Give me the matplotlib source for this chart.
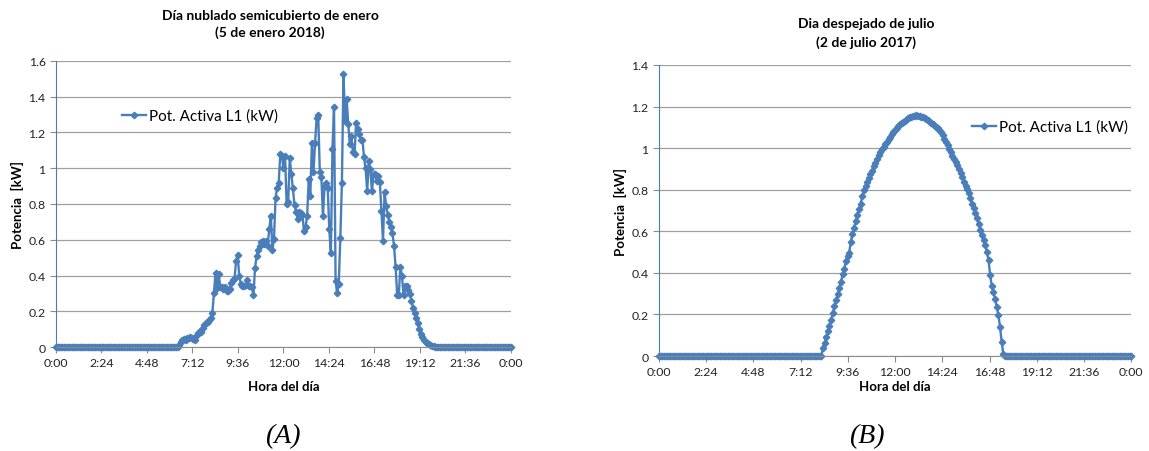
import numpy as np
import matplotlib
matplotlib.use("Agg")
import matplotlib.pyplot as plt
from matplotlib.ticker import FuncFormatter

plt.rcParams['font.family'] = ['Lato', 'DejaVu Sans']

# muestras cada 5 minutos, de 0:00 a 0:00 del dia siguiente
minutos = np.arange(0, 1441, 5)
tiempo = minutos / 1440.0

etiquetas_hora = ['0:00', '2:24', '4:48', '7:12', '9:36', '12:00',
                  '14:24', '16:48', '19:12', '21:36', '0:00']

# (A) 5 de enero 2018, desde 6:30 hasta 20:05
dia_a = [
    0.01, 0.03, 0.04, 0.043, 0.04, 0.048, 0.052, 0.056, 0.05, 0.046, 0.04, 0.065,
    0.08, 0.09, 0.085, 0.105, 0.122, 0.135, 0.14, 0.15, 0.165, 0.19, 0.30, 0.415,
    0.33, 0.41, 0.335, 0.335, 0.322, 0.338, 0.315, 0.315, 0.327, 0.36, 0.375, 0.38,
    0.48, 0.515, 0.40, 0.355, 0.34, 0.34, 0.345, 0.375, 0.34, 0.34, 0.335, 0.29,
    0.44, 0.51, 0.54, 0.565, 0.585, 0.595, 0.575, 0.595, 0.565, 0.66, 0.735, 0.545,
    0.605, 0.835, 0.89, 0.92, 1.08, 1.07, 1.0, 1.07, 0.80, 0.81, 1.055, 0.97,
    0.89, 0.795, 0.755, 0.715, 0.755, 0.75, 0.74, 0.65, 0.67, 0.735, 0.94, 0.845,
    1.14, 0.98, 1.14, 1.28, 1.30, 0.98, 0.95, 0.73, 0.90, 0.915, 0.89, 0.66,
    0.525, 1.105, 1.34, 0.37, 0.30, 0.355, 0.61, 0.92, 1.525, 1.265, 1.385, 1.25,
    1.135, 1.18, 1.09, 1.08, 1.255, 1.22, 1.19, 1.16, 1.16, 1.06, 1.0, 0.87,
    1.04, 0.995, 0.87, 0.965, 0.965, 0.93, 0.955, 0.925, 0.76, 0.595, 0.865, 0.79,
    0.74, 0.70, 0.67, 0.635, 0.565, 0.445, 0.29, 0.29, 0.45, 0.40, 0.29, 0.34,
    0.34, 0.32, 0.295, 0.26, 0.22, 0.19, 0.165, 0.135, 0.10, 0.075, 0.055, 0.04,
    0.03, 0.022, 0.016, 0.012, 0.008, 0.005, 0.003, 0.001,
]
pot_a = [0.0] * 78 + dia_a + [0.0] * 47

# (B) 2 de julio 2017, desde 8:20 hasta 17:30
dia_b = [
    0.04, 0.065, 0.09, 0.12, 0.145, 0.175, 0.205, 0.24, 0.268, 0.298, 0.328, 0.357,
    0.393, 0.42, 0.455, 0.48, 0.495, 0.55, 0.587, 0.617, 0.65, 0.68, 0.707, 0.733,
    0.768, 0.80, 0.818, 0.838, 0.857, 0.874, 0.89, 0.912, 0.93, 0.948, 0.966, 0.98,
    0.994, 1.007, 1.019, 1.03, 1.043, 1.055, 1.067, 1.078, 1.088, 1.098, 1.107, 1.115,
    1.121, 1.127, 1.133, 1.139, 1.145, 1.149, 1.152, 1.155, 1.157, 1.158, 1.157, 1.155,
    1.152, 1.148, 1.144, 1.14, 1.135, 1.128, 1.122, 1.116, 1.11, 1.104, 1.098, 1.088,
    1.078, 1.062, 1.046, 1.03, 1.014, 0.998, 0.982, 0.964, 0.946, 0.933, 0.919, 0.9,
    0.88, 0.86, 0.838, 0.82, 0.803, 0.782, 0.76, 0.732, 0.71, 0.69, 0.663, 0.635,
    0.607, 0.58, 0.558, 0.535, 0.50, 0.46, 0.39, 0.335, 0.31, 0.275, 0.235, 0.199,
    0.14, 0.07, 0.01,
]
pot_b = [0.0] * 100 + dia_b + [0.0] * 78

serie = 'Pot. Activa L1 (kW)'
azul = '#4a7ebb'
gris = '#a0a0a0'


def estilo(ax, ymax):
    ax.set_xlim(0, 1)
    ax.set_ylim(0, ymax)
    ax.set_xticks(np.linspace(0, 1, 11))
    ax.set_xticklabels(etiquetas_hora)
    ax.set_yticks(np.arange(0, ymax + 0.01, 0.2))
    ax.yaxis.set_major_formatter(FuncFormatter(lambda v, p: '%g' % round(v, 1)))
    ax.grid(axis='y', color=gris, lw=0.9)
    ax.set_axisbelow(True)
    for s in ['top', 'right']:
        ax.spines[s].set_visible(False)
    ax.spines['left'].set_color(azul)
    ax.spines['left'].set_linewidth(0.8)
    ax.spines['bottom'].set_color('#8c8c8c')
    ax.tick_params(axis='both', labelsize=8.8, colors='#8c8c8c', labelcolor='#222222',
                   length=4, width=0.8)
    ax.set_ylabel('Potencia  [kW]', fontsize=9.5, fontweight='bold', labelpad=3)


fig = plt.figure(figsize=(11.49, 4.52), dpi=100)

ax1 = fig.add_axes([0.0487, 0.230, 0.396, 0.633])
ax1.plot(tiempo, pot_a, color=azul, lw=1.7, marker='D', ms=3.3, label=serie, clip_on=False)
estilo(ax1, 1.6)
ax1.set_xlabel('Hora del día', fontsize=9.5, fontweight='bold', labelpad=8)
ax1.legend(loc='center left', bbox_to_anchor=(0.145, 0.808), frameon=False,
           fontsize=11, handlelength=1.6, handletextpad=0.15, borderpad=0, borderaxespad=0)

ax2 = fig.add_axes([0.5735, 0.210, 0.411, 0.644])
ax2.plot(tiempo, pot_b, color=azul, lw=1.7, marker='D', ms=3.3, label=serie, clip_on=False)
estilo(ax2, 1.4)
ax2.set_xlabel('Hora del día', fontsize=9.5, fontweight='bold', labelpad=2)
ax2.legend(loc='center left', bbox_to_anchor=(0.663, 0.787), frameon=False,
           fontsize=11, handlelength=1.6, handletextpad=0.15, borderpad=0, borderaxespad=0)

fig.text(0.235, 0.965, 'Día nublado semicubierto de enero', ha='center', va='center',
         fontsize=10, fontweight='bold')
fig.text(0.235, 0.927, '(5 de enero 2018)', ha='center', va='center',
         fontsize=10, fontweight='bold')
fig.text(0.754, 0.947, 'Dia despejado de julio', ha='center', va='center',
         fontsize=10, fontweight='bold')
fig.text(0.754, 0.905, '(2 de julio 2017)', ha='center', va='center',
         fontsize=10, fontweight='bold')

fig.text(0.246, 0.033, '(A)', ha='center', va='center', fontsize=20,
         family='Liberation Serif', style='italic')
fig.text(0.754, 0.033, '(B)', ha='center', va='center', fontsize=20,
         family='Liberation Serif', style='italic')

fig.savefig('out.png', dpi=100)
